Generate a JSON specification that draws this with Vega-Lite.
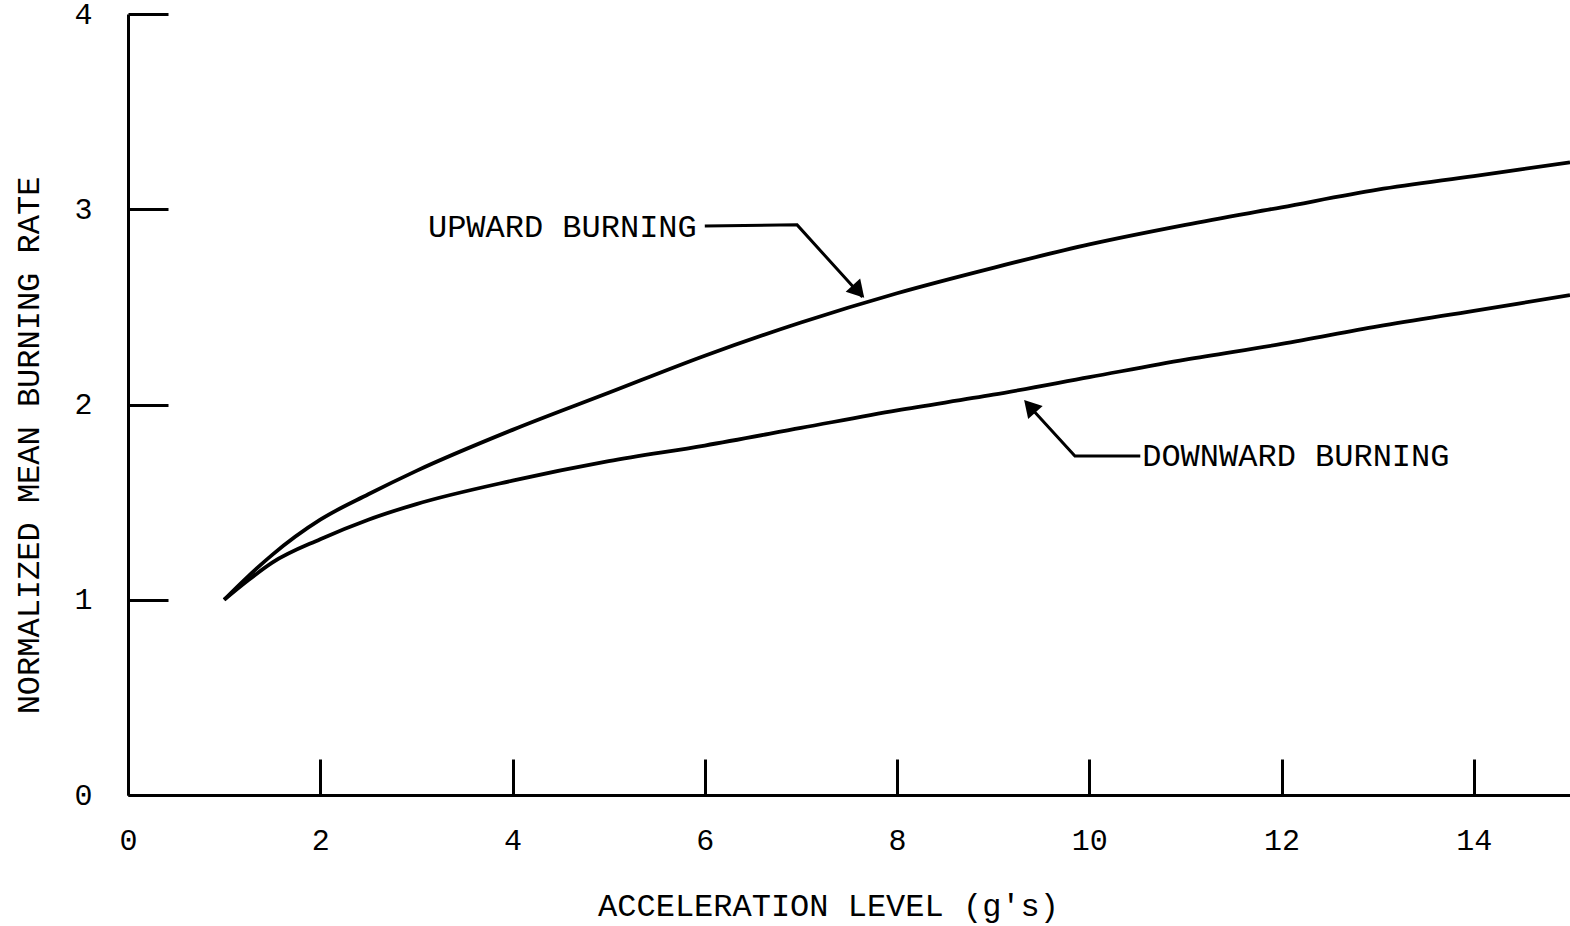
{
  "$schema": "https://vega.github.io/schema/vega-lite/v6.json",
  "autosize": {"type": "none"},
  "width": 1442,
  "height": 781,
  "padding": {"left": 128, "top": 14, "right": 0, "bottom": 131},
  "background": "white",
  "config": {
    "view": {"stroke": null},
    "font": "Liberation Mono",
    "axis": {
      "labelFont": "Liberation Mono",
      "titleFont": "Liberation Mono",
      "labelFontSize": 30,
      "titleFontSize": 32,
      "titleFontWeight": "normal",
      "labelColor": "black",
      "titleColor": "black",
      "domainColor": "black",
      "tickColor": "black",
      "domainWidth": 3,
      "tickWidth": 3,
      "grid": false
    }
  },
  "datasets": {
    "curves": [
      {"series": "UPWARD", "acc": 1, "rate": 1.0},
      {"series": "UPWARD", "acc": 1.25, "rate": 1.12},
      {"series": "UPWARD", "acc": 1.5, "rate": 1.23},
      {"series": "UPWARD", "acc": 2, "rate": 1.41},
      {"series": "UPWARD", "acc": 2.5, "rate": 1.54},
      {"series": "UPWARD", "acc": 3, "rate": 1.66},
      {"series": "UPWARD", "acc": 4, "rate": 1.87},
      {"series": "UPWARD", "acc": 5, "rate": 2.06},
      {"series": "UPWARD", "acc": 6, "rate": 2.25},
      {"series": "UPWARD", "acc": 7, "rate": 2.42},
      {"series": "UPWARD", "acc": 8, "rate": 2.57},
      {"series": "UPWARD", "acc": 9, "rate": 2.7},
      {"series": "UPWARD", "acc": 10, "rate": 2.82},
      {"series": "UPWARD", "acc": 11, "rate": 2.92},
      {"series": "UPWARD", "acc": 12, "rate": 3.01},
      {"series": "UPWARD", "acc": 13, "rate": 3.1},
      {"series": "UPWARD", "acc": 14, "rate": 3.17},
      {"series": "UPWARD", "acc": 15, "rate": 3.24},
      {"series": "DOWNWARD", "acc": 1, "rate": 1.0},
      {"series": "DOWNWARD", "acc": 1.25, "rate": 1.1},
      {"series": "DOWNWARD", "acc": 1.5, "rate": 1.19},
      {"series": "DOWNWARD", "acc": 2, "rate": 1.31},
      {"series": "DOWNWARD", "acc": 2.5, "rate": 1.41},
      {"series": "DOWNWARD", "acc": 3, "rate": 1.49},
      {"series": "DOWNWARD", "acc": 4, "rate": 1.61},
      {"series": "DOWNWARD", "acc": 5, "rate": 1.71},
      {"series": "DOWNWARD", "acc": 6, "rate": 1.79},
      {"series": "DOWNWARD", "acc": 7, "rate": 1.88},
      {"series": "DOWNWARD", "acc": 8, "rate": 1.97},
      {"series": "DOWNWARD", "acc": 9, "rate": 2.05},
      {"series": "DOWNWARD", "acc": 10, "rate": 2.14},
      {"series": "DOWNWARD", "acc": 11, "rate": 2.23},
      {"series": "DOWNWARD", "acc": 12, "rate": 2.31},
      {"series": "DOWNWARD", "acc": 13, "rate": 2.4},
      {"series": "DOWNWARD", "acc": 14, "rate": 2.48},
      {"series": "DOWNWARD", "acc": 15, "rate": 2.56}
    ],
    "leaders": [
      {"series": "UPWARD", "seq": 1, "acc": 6.0, "rate": 2.914},
      {"series": "UPWARD", "seq": 2, "acc": 6.96, "rate": 2.92},
      {"series": "UPWARD", "seq": 3, "acc": 7.64, "rate": 2.55},
      {"series": "DOWNWARD", "seq": 1, "acc": 10.53, "rate": 1.736},
      {"series": "DOWNWARD", "seq": 2, "acc": 9.85, "rate": 1.736},
      {"series": "DOWNWARD", "seq": 3, "acc": 9.36, "rate": 2.0}
    ],
    "labels": [
      {"label": "UPWARD BURNING", "acc": 3.12, "rate": 2.91},
      {"label": "DOWNWARD BURNING", "acc": 10.55, "rate": 1.736}
    ],
    "heads": [
      {"series": "UPWARD", "acc": 7.58, "rate": 2.59},
      {"series": "DOWNWARD", "acc": 9.4, "rate": 1.98}
    ]
  },
  "encoding": {
    "x": {
      "field": "acc", "type": "quantitative",
      "scale": {"domain": [0, 15], "nice": false, "zero": true},
      "axis": {
        "title": "ACCELERATION LEVEL (g's)",
        "values": [0, 2, 4, 6, 8, 10, 12, 14],
        "tickSize": -36,
        "labelPadding": 81,
        "labelBaseline": "middle",
        "titleX": 700,
        "titleY": 110,
        "titleAnchor": "start",
        "titleAlign": "center",
        "titleBaseline": "middle",
        "labelFlush": false,
        "labelOverlap": false
      }
    },
    "y": {
      "field": "rate", "type": "quantitative",
      "scale": {"domain": [0, 4], "nice": false},
      "axis": {
        "title": "NORMALIZED MEAN BURNING RATE",
        "values": [0, 1, 2, 3, 4],
        "tickSize": -40,
        "labelPadding": 76,
        "labelFlush": false,
        "labelOverlap": false,
        "labelBaseline": "middle",
        "titleX": -100,
        "titleY": 431,
        "titleAngle": -90,
        "titleAnchor": "start",
        "titleAlign": "center",
        "titleBaseline": "middle"
      }
    }
  },
  "layer": [
    {
      "data": {"name": "curves"},
      "mark": {"type": "line", "interpolate": "monotone", "color": "black", "strokeWidth": 3.8},
      "encoding": {"detail": {"field": "series"}}
    },
    {
      "data": {"name": "leaders"},
      "mark": {"type": "line", "color": "black", "strokeWidth": 3},
      "encoding": {"detail": {"field": "series"}, "order": {"field": "seq"}}
    },
    {
      "data": {"name": "heads"},
      "transform": [{"filter": "datum.series == 'UPWARD'"}],
      "mark": {"type": "point", "shape": "triangle", "filled": true, "color": "black", "size": 380, "angle": 138, "opacity": 1}
    },
    {
      "data": {"name": "heads"},
      "transform": [{"filter": "datum.series == 'DOWNWARD'"}],
      "mark": {"type": "point", "shape": "triangle", "filled": true, "color": "black", "size": 380, "angle": 318, "opacity": 1}
    },
    {
      "data": {"name": "labels"},
      "mark": {"type": "text", "align": "left", "baseline": "middle", "font": "Liberation Mono", "fontSize": 32, "color": "black"},
      "encoding": {"text": {"field": "label"}}
    }
  ]
}
